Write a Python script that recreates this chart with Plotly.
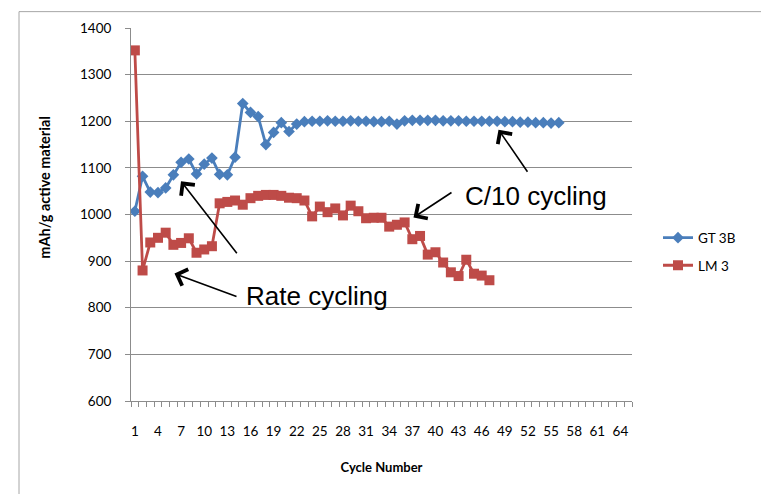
import plotly.graph_objects as go

# ---- data ----
gt3b_cycles = list(range(1, 57))
gt3b_values = [1007, 1082, 1048, 1047, 1057, 1085, 1112, 1119, 1087, 1108,
               1121, 1086, 1085, 1123, 1238, 1219, 1210, 1150, 1176, 1197,
               1178, 1194, 1199, 1200, 1200, 1201, 1200, 1200, 1201, 1200,
               1200, 1199, 1199, 1200, 1194, 1201, 1202, 1202, 1202, 1202,
               1201, 1201, 1201, 1200, 1200, 1200, 1200, 1200, 1199, 1199,
               1198, 1198, 1197, 1197, 1196, 1197]

lm3_cycles = list(range(1, 48))
lm3_values = [1352, 880, 940, 950, 961, 935, 939, 949, 918, 925,
              932, 1024, 1027, 1030, 1021, 1035, 1040, 1042, 1042, 1040,
              1036, 1035, 1030, 996, 1017, 1005, 1013, 998, 1019, 1007,
              992, 993, 993, 974, 978, 983, 947, 954, 914, 919,
              897, 876, 868, 903, 873, 869, 859]

x_tick_labels = list(range(1, 65, 3))
y_ticks = list(range(600, 1401, 100))

BLUE = "#4a7ebb"
RED = "#be4b48"
GRID = "#8c8c8c"
TICKFONT = "Lato"

# page has an 8px body margin: figure occupies screen 8..769 x 8..494
OFF = 8
W, H = 769 - OFF, 494 - OFF
PLOT_X0, PLOT_X1 = 131, 632   # screen px
PLOT_Y0, PLOT_Y1 = 25, 401    # screen px
L, T = PLOT_X0 - OFF, PLOT_Y0 - OFF
R, B = 769 - PLOT_X1, 494 - PLOT_Y1
PW, PH = PLOT_X1 - PLOT_X0, PLOT_Y1 - PLOT_Y0


def px(x):
    return (x - PLOT_X0) / PW


def py(y):
    return (PLOT_Y1 - y) / PH


fig = go.Figure()
fig.add_trace(go.Scatter(
    x=gt3b_cycles, y=gt3b_values, name="GT 3B", mode="lines+markers",
    line=dict(color=BLUE, width=2.8),
    marker=dict(symbol="diamond", size=9, color=BLUE),
    legendgroup="a"))
fig.add_trace(go.Scatter(
    x=lm3_cycles, y=lm3_values, name="LM 3", mode="lines+markers",
    line=dict(color=RED, width=2.8),
    marker=dict(symbol="square", size=10, color=RED),
    legendgroup="b"))

fig.update_layout(
    width=W, height=H,
    margin=dict(l=L, r=R, t=T, b=B),
    paper_bgcolor="white", plot_bgcolor="white",
    font=dict(family=TICKFONT, size=13, color="#000000"),
    showlegend=True,
    legend=dict(x=px(658), y=py(221), xanchor="left", yanchor="top",
                font=dict(family=TICKFONT, size=13.5), tracegroupgap=7,
                bgcolor="rgba(0,0,0,0)", itemwidth=30),
    xaxis=dict(
        range=[0.5, 65.5], tickmode="array", tickvals=x_tick_labels,
        ticktext=[str(v) for v in x_tick_labels], ticks="",
        showgrid=False, zeroline=False, showline=True, linecolor=GRID,
        linewidth=1, ticklabelstandoff=18,
        tickfont=dict(family=TICKFONT, size=13.5),
        minor=dict(tickmode="array",
                   tickvals=[i + 0.5 for i in range(0, 66)],
                   ticks="outside", ticklen=5, tickcolor=GRID, showgrid=False),
        title=dict(text="<b>Cycle Number</b>", font=dict(family=TICKFONT, size=13),
                   standoff=24),
    ),
    yaxis=dict(
        range=[600, 1400], tickmode="array", tickvals=y_ticks,
        ticks="outside", ticklen=5, tickcolor=GRID,
        showgrid=True, gridcolor=GRID, gridwidth=1.2, zeroline=False,
        showline=True, linecolor=GRID, linewidth=1,
        ticklabelstandoff=11,
        tickfont=dict(family=TICKFONT, size=13.5),
    ),
)

# y axis title
fig.add_annotation(text="<b>mAh/g active material</b>", xref="paper", yref="paper",
                   x=px(45), y=py(186), xanchor="center", yanchor="middle",
                   showarrow=False, textangle=-90,
                   font=dict(family=TICKFONT, size=14.5))

# annotation texts
fig.add_annotation(text="Rate cycling", xref="paper", yref="paper",
                   x=px(317), y=py(295), xanchor="center", yanchor="middle",
                   showarrow=False,
                   font=dict(family="Liberation Sans", size=26, color="#000"))
fig.add_annotation(text="C/10 cycling", xref="paper", yref="paper",
                   x=px(536), y=py(194), xanchor="center", yanchor="middle",
                   showarrow=False,
                   font=dict(family="Liberation Sans", size=26, color="#000"))

# arrows: (head_x, head_y, tail_x, tail_y) in screen pixels
arrows = [(181, 179.5, 238, 253), (174.5, 272.5, 238, 296),
          (413.5, 216, 453, 190), (498.5, 127.5, 528.5, 171)]
for hx, hy, tx, ty in arrows:
    fig.add_annotation(text="", xref="paper", yref="paper", x=px(hx), y=py(hy),
                       ax=tx - hx, ay=ty - hy, showarrow=True, arrowhead=4,
                       arrowsize=2.1, arrowwidth=1.6, arrowcolor="#000")

# chart border (only left and top edges fall inside the view)
fig.add_shape(type="rect", xref="paper", yref="paper",
              x0=px(19), x1=px(780), y0=py(510), y1=py(8.5),
              line=dict(color="#a6a6a6", width=1), layer="below")

fig.write_html("out.html")
